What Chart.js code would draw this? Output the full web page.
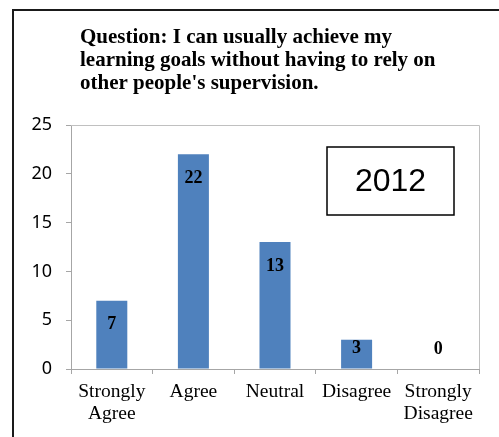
<!DOCTYPE html>
<html>
<head>
<meta charset="utf-8">
<script src="https://cdn.jsdelivr.net/npm/chart.js@4"></script>
<style>
  html, body { margin: 0; padding: 0; background: #fff; overflow: hidden; }
  #wrap { position: relative; width: 499px; height: 437px; }
  #frame {
    position: absolute; left: 12px; top: 9px; width: 700px; height: 700px;
    border: 2px solid #1a1a1a; box-sizing: border-box;
  }
  #chart { position: absolute; left: 0; top: 0; }
</style>
</head>
<body>
<div id="wrap">
  <div id="frame"></div>
  <canvas id="chart" width="499" height="437"></canvas>
</div>
<script>
// Survey answers for one question, single year.
const TITLE_LINES = [
  "Question: I can usually achieve my",
  "learning goals without having to rely on",
  "other people's supervision.",
];
const YEAR_LABEL = "2012";
const CATEGORIES = [["Strongly", "Agree"], "Agree", "Neutral", "Disagree", ["Strongly", "Disagree"]];
const COUNTS = [7, 22, 13, 3, 0];
const Y_MIN = 0;
const Y_MAX = 25;
const Y_STEP = 5;

const SERIF = "'Liberation Serif', 'Times New Roman', serif";
const SANS = "'Noto Sans', 'Liberation Sans', Arial, sans-serif";
const AXIS_GRAY = "#a6a6a6";

// Title is left-aligned inside the frame rather than centered on the chart,
// so draw it by hand above the plot area.
const titlePlugin = {
  id: "leftTitle",
  afterDraw(chart) {
    const ctx = chart.ctx;
    ctx.save();
    ctx.font = `bold 21px ${SERIF}`;
    ctx.fillStyle = "#000";
    ctx.textAlign = "left";
    ctx.textBaseline = "alphabetic";
    TITLE_LINES.forEach((line, i) => ctx.fillText(line, 80, 43 + i * 23));
    ctx.restore();
  },
};

// Light border on the top and right of the plot area (axes cover the rest).
const plotBorderPlugin = {
  id: "plotBorder",
  beforeDatasetsDraw(chart) {
    const { ctx, chartArea: a } = chart;
    ctx.save();
    ctx.strokeStyle = "#c0c0c0";
    ctx.lineWidth = 1;
    ctx.beginPath();
    ctx.moveTo(a.left, a.top + 0.5);
    ctx.lineTo(a.right + 0.5, a.top + 0.5);
    ctx.lineTo(a.right + 0.5, a.bottom);
    ctx.stroke();
    ctx.restore();
  },
};

// Value labels sit just inside the top of each bar; short bars push the
// label up above the axis instead.
const valueLabelPlugin = {
  id: "valueLabels",
  afterDatasetsDraw(chart) {
    const ctx = chart.ctx;
    const meta = chart.getDatasetMeta(0);
    ctx.save();
    ctx.font = `bold 18px ${SERIF}`;
    ctx.fillStyle = "#000";
    ctx.textAlign = "center";
    ctx.textBaseline = "middle";
    meta.data.forEach((bar, i) => {
      const y = Math.min(bar.y + 24, bar.base - 20);
      ctx.fillText(String(COUNTS[i]), bar.x, y);
    });
    ctx.restore();
  },
};

// Boxed year tag in the upper right of the plot.
const yearBoxPlugin = {
  id: "yearBox",
  afterDraw(chart) {
    const a = chart.chartArea;
    const ctx = chart.ctx;
    const x = a.right - 152, y = a.top + 22, w = 127, h = 68;
    ctx.save();
    ctx.fillStyle = "#fff";
    ctx.fillRect(x, y, w, h);
    ctx.strokeStyle = "#000";
    ctx.lineWidth = 1.5;
    ctx.strokeRect(x, y, w, h);
    ctx.font = `32px 'Liberation Sans', Arial, sans-serif`;
    ctx.fillStyle = "#000";
    ctx.textAlign = "center";
    ctx.textBaseline = "middle";
    ctx.fillText(YEAR_LABEL, x + w / 2, y + h / 2 + 1);
    ctx.restore();
  },
};

new Chart(document.getElementById("chart").getContext("2d"), {
  type: "bar",
  data: {
    labels: CATEGORIES,
    datasets: [{
      data: COUNTS,
      backgroundColor: "#4f81bd",
      borderWidth: 0,
      barPercentage: 0.38,
      categoryPercentage: 1,
    }],
  },
  options: {
    responsive: false,
    devicePixelRatio: 1,
    animation: false,
    layout: { padding: { left: 0, top: 125, right: 20, bottom: 0 } },
    plugins: {
      legend: { display: false },
      title: { display: false },
      tooltip: { enabled: false },
    },
    scales: {
      x: {
        afterFit: (s) => { s.height = 68; },
        grid: {
          display: true,
          drawOnChartArea: false,
          offset: true,
          color: AXIS_GRAY,
          tickLength: 5,
        },
        border: { color: AXIS_GRAY, width: 1 },
        ticks: {
          color: "#000",
          padding: 7,
          maxRotation: 0,
          autoSkip: false,
          font: { family: SERIF, size: 19.5, lineHeight: 1.13 },
        },
      },
      y: {
        min: Y_MIN,
        max: Y_MAX,
        afterFit: (s) => { s.width = 71; },
        grid: {
          display: true,
          drawOnChartArea: false,
          color: AXIS_GRAY,
          tickLength: 5,
        },
        border: { color: AXIS_GRAY, width: 1 },
        ticks: {
          stepSize: Y_STEP,
          color: "#000",
          padding: 14,
          font: { family: SANS, size: 18 },
        },
      },
    },
  },
  plugins: [titlePlugin, plotBorderPlugin, valueLabelPlugin, yearBoxPlugin],
});
</script>
</body>
</html>
